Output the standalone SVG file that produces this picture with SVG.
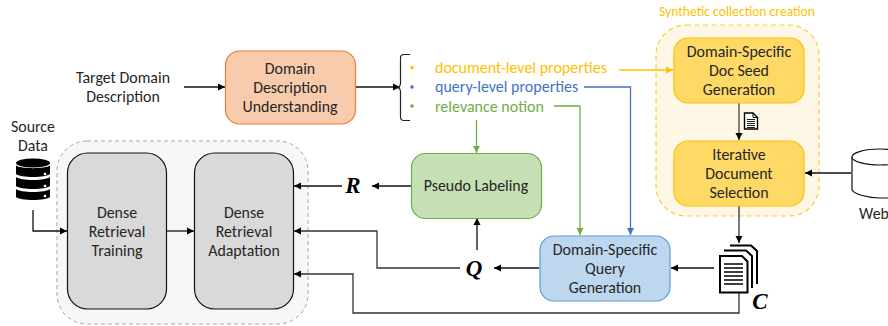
<svg xmlns="http://www.w3.org/2000/svg" width="888" height="326" viewBox="0 0 888 326">
<style>
text{font-family:Carlito,Lato,"Open Sans",sans-serif;font-size:15.9px;fill:#262626;text-anchor:middle}
.m{font-family:"Liberation Serif",serif;font-weight:bold;font-style:italic;font-size:23px;fill:#000}
.c{fill:none;stroke-width:1.3}
.k{stroke:#111}.y{stroke:#ffc000}.b{stroke:#4472c4}.g{stroke:#70ad47}
.l{text-anchor:start;font-size:16px}
.n{stroke-width:1.2}
</style>
<defs>
<marker id="ak" markerUnits="userSpaceOnUse" markerWidth="9" markerHeight="8" refX="7" refY="4" orient="auto"><path d="M0 .5L7 4L0 7.5z" fill="#000"/></marker>
<marker id="ay" markerUnits="userSpaceOnUse" markerWidth="9" markerHeight="8" refX="7" refY="4" orient="auto"><path d="M0 .5L7 4L0 7.5z" fill="#ffc000"/></marker>
<marker id="ab" markerUnits="userSpaceOnUse" markerWidth="9" markerHeight="8" refX="7" refY="4" orient="auto"><path d="M0 .5L7 4L0 7.5z" fill="#4472c4"/></marker>
<marker id="ag" markerUnits="userSpaceOnUse" markerWidth="9" markerHeight="8" refX="7" refY="4" orient="auto"><path d="M0 .5L7 4L0 7.5z" fill="#70ad47"/></marker>
</defs>

<g id="training-container"><rect x="57" y="141" width="251" height="183" rx="30" fill="#f7f7f7" stroke="#a6a6a6" stroke-dasharray="4 3"/></g>
<g id="synthetic-container">
<rect x="656" y="25" width="163" height="191" rx="30" fill="#fff7e6" stroke="#ffc93c" stroke-width="1.2" stroke-dasharray="5 3.5"/>
<text x="737" y="16" style="fill:#ffc000;font-size:13.6px">Synthetic collection creation</text>
</g>

<g id="connectors">
<path class="c k" d="M184 87H225" marker-end="url(#ak)"/>
<path class="c k" d="M356 87H400" marker-end="url(#ak)"/>
<path class="c y" d="M619 70H673" marker-end="url(#ay)"/>
<path class="c b" d="M584 87H630.500V235" marker-end="url(#ab)"/>
<path class="c g" d="M554 106H580V235" marker-end="url(#ag)"/>
<path class="c g" d="M476.500 120V153" marker-end="url(#ag)"/>
<path class="c k" d="M739 103V140" marker-end="url(#ak)" style="stroke:#444"/>
<path class="c k" d="M851 173H805" marker-end="url(#ak)"/>
<path class="c k" d="M739 206V243" marker-end="url(#ak)" style="stroke:#333"/>
<path class="c k" d="M714 268H671" marker-end="url(#ak)"/>
<path class="c k" d="M539 268H494" marker-end="url(#ak)"/>
<path class="c k" d="M477 250V218" marker-end="url(#ak)"/>
<path class="c k" d="M411 186H372" marker-end="url(#ak)"/>
<path class="c k" d="M342 186H294" marker-end="url(#ak)"/>
<path class="c k" d="M460 268H377V231H294" marker-end="url(#ak)" style="stroke:#333"/>
<path class="c k" d="M739 293V313H353V274H294" marker-end="url(#ak)" style="stroke:#333"/>
<path class="c k" d="M33 210V231H67" marker-end="url(#ak)"/>
<path class="c k" d="M167 231H194" marker-end="url(#ak)"/>
</g>

<g id="target-domain"><text x="123" y="83">Target Domain</text><text x="123" y="102">Description</text></g>
<g id="source-data">
<text x="33" y="132">Source</text><text x="33" y="151">Data</text>
<ellipse cx="33" cy="163" rx="17" ry="4.500" fill="#000"/>
<path d="M16 165.500C20 169 46 169 50 165.500V174C46 178 20 178 16 174Z" fill="#000"/>
<path d="M16 177C20 181 46 181 50 177V186C46 190 20 190 16 186Z" fill="#000"/>
<path d="M16 189C20 193 46 193 50 189V197C46 201 20 201 16 197Z" fill="#000"/>
<circle cx="45" cy="174" r="1.300" fill="#fff"/><circle cx="45" cy="186" r="1.300" fill="#fff"/><circle cx="45" cy="196" r="1.300" fill="#fff"/>
</g>

<g id="dense-training"><rect class="n" x="67.500" y="153" width="99" height="156" rx="20" fill="#d9d9d9" stroke="#111"/>
<text x="117" y="218">Dense</text><text x="117" y="237">Retrieval</text><text x="117" y="256">Training</text></g>
<g id="dense-adaptation"><rect class="n" x="194.500" y="153" width="99" height="156" rx="20" fill="#d9d9d9" stroke="#111"/>
<text x="244" y="218">Dense</text><text x="244" y="237">Retrieval</text><text x="244" y="256">Adaptation</text></g>

<g id="domain-understanding"><rect class="n" x="225.500" y="51" width="130" height="73" rx="14" fill="#f8cbad" stroke="#ed7d31"/>
<text x="290" y="74">Domain</text><text x="290" y="93">Description</text><text x="290" y="112">Understanding</text></g>

<g id="properties">
<path d="M410 54.500H404Q400.500 54.500 400.500 58V83Q400.500 87 397 87.500Q400.500 88 400.500 92V117Q400.500 120.500 404 120.500H410" fill="none" stroke="#222" stroke-width="1.200"/>
<circle cx="412" cy="67.500" r="1.800" fill="#ffc000"/><circle cx="412" cy="87" r="1.800" fill="#4472c4"/><circle cx="412" cy="106" r="1.800" fill="#70ad47"/>
<text class="l" x="435" y="73" style="fill:#ffc000">document-level properties</text>
<text class="l" x="435" y="92" style="fill:#4472c4">query-level properties</text>
<text class="l" x="435" y="112" style="fill:#70ad47">relevance notion</text>
</g>

<g id="pseudo-labeling"><rect class="n" x="411.500" y="153.500" width="130" height="65" rx="14" fill="#c5e0b4" stroke="#70ad47"/>
<text x="476" y="191">Pseudo Labeling</text></g>
<g id="query-generation"><rect class="n" x="540" y="236" width="130" height="65" rx="14" fill="#bdd7ee" stroke="#5b9bd5"/>
<text x="605" y="255">Domain-Specific</text><text x="605" y="274">Query</text><text x="605" y="293">Generation</text></g>
<g id="doc-seed"><rect class="n" x="674" y="38" width="130" height="65" rx="14" fill="#ffd966" stroke="#ffc000"/>
<text x="739" y="57">Domain-Specific</text><text x="739" y="76">Doc Seed</text><text x="739" y="95">Generation</text></g>
<g id="doc-selection"><rect class="n" x="674" y="141" width="130" height="65" rx="14" fill="#ffd966" stroke="#ffc000"/>
<text x="739" y="160">Iterative</text><text x="739" y="179">Document</text><text x="739" y="198">Selection</text></g>

<g id="web">
<path d="M852 157V190C854 194 868 198 880 198H900V157" fill="#fff" stroke="#111" stroke-width="1.200"/>
<ellipse cx="880" cy="157" rx="28" ry="8" fill="#fff" stroke="#111" stroke-width="1.200"/>
<text x="874" y="219">Web</text>
</g>

<g id="doc-icon" fill="#fff" stroke="#000">
<path d="M744.500 113H753L757.500 117.500V129H744.500Z" stroke-width="1.400"/>
<path d="M753 113V117.500H757.500" fill="none" stroke-width="1"/>
<path d="M747 119.500H755M747 121.500H755M747 123.500H755M747 125.500H755M747 127.500H755" fill="none" stroke-width=".9"/>
</g>

<g id="collection-c">
<path d="M730 245.500H751L757 251V284" fill="none" stroke="#000" stroke-width="2"/>
<path d="M724 250.500H746L752 256V288" fill="#fff" stroke="#000" stroke-width="2"/>
<path d="M720 256H742L747.500 261.500V292.500H720Z" fill="#fff" stroke="#000" stroke-width="2"/>
<path d="M724 264H743M724 268H743M724 272H743M724 276H743M724 280H743M724 284H743" fill="none" stroke="#000" stroke-width="1.400"/>
<text class="m" x="760" y="309">C</text>
</g>
<g id="label-q"><text class="m" x="474" y="276">Q</text></g>
<g id="label-r"><text class="m" x="353" y="193">R</text></g>
</svg>
